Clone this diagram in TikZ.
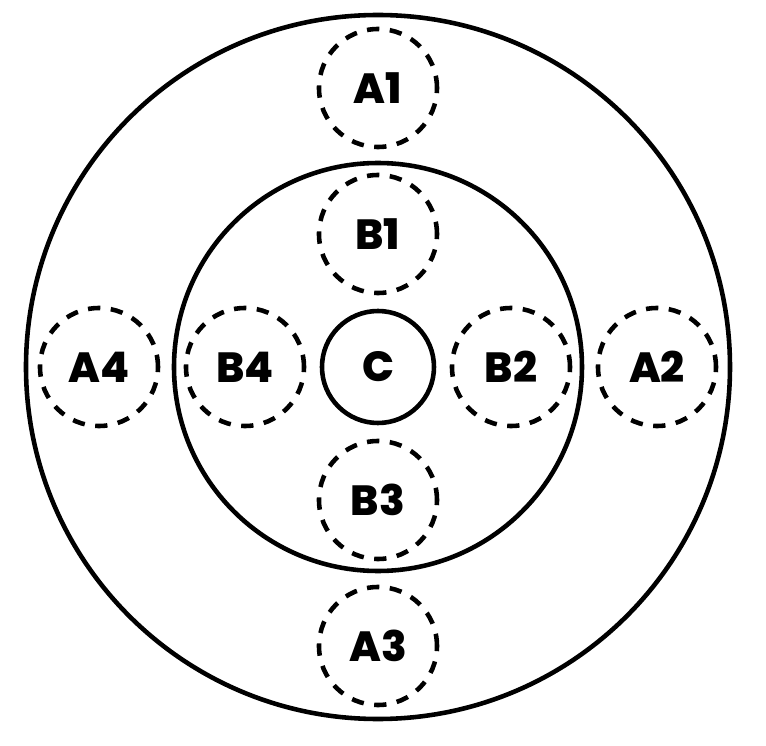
\documentclass[tikz,border=0pt]{standalone}
\usepackage{fontspec}
\setmainfont{Poppins}[BoldFont={Poppins ExtraBold}]
\usepackage{tikz}

\begin{document}
\begin{tikzpicture}[node distance=2.66cm, line width=2.6pt,
    ring node/.style={circle,draw,inner sep=0pt},
    core node/.style={circle,draw,minimum size=2.24cm,inner sep=0pt,font=\fontsize{24}{26}\selectfont\bfseries},
    zone node/.style={circle,draw,dash pattern=on 7pt off 6pt,line width=2.6pt,minimum size=2.36cm,inner sep=0pt,font=\fontsize{24}{26}\selectfont\bfseries}]
    
    \useasboundingbox (-7.56,-7.58) rectangle (7.76,7.34);
    
    \node[ring node, minimum size=14.08cm] (outer) at (0,0) {};
    \node[ring node, minimum size=8.16cm] (inner) at (0,0) {};
    \node[core node] (c) at (0,0) {C};
    
    \node[zone node] (b1) [above of=c] {B1};
    \node[zone node] (b2) [right of=c] {B2};
    \node[zone node] (b3) [below of=c] {B3};
    \node[zone node] (b4) [left of=c] {B4};
    
    \node[zone node, node distance=2.92cm] (a1) [above of=b1] {A1};
    \node[zone node, node distance=2.92cm] (a2) [right of=b2] {A2};
    \node[zone node, node distance=2.92cm] (a3) [below of=b3] {A3};
    \node[zone node, node distance=2.92cm] (a4) [left of=b4] {A4};
    \end{tikzpicture}
\end{document}
